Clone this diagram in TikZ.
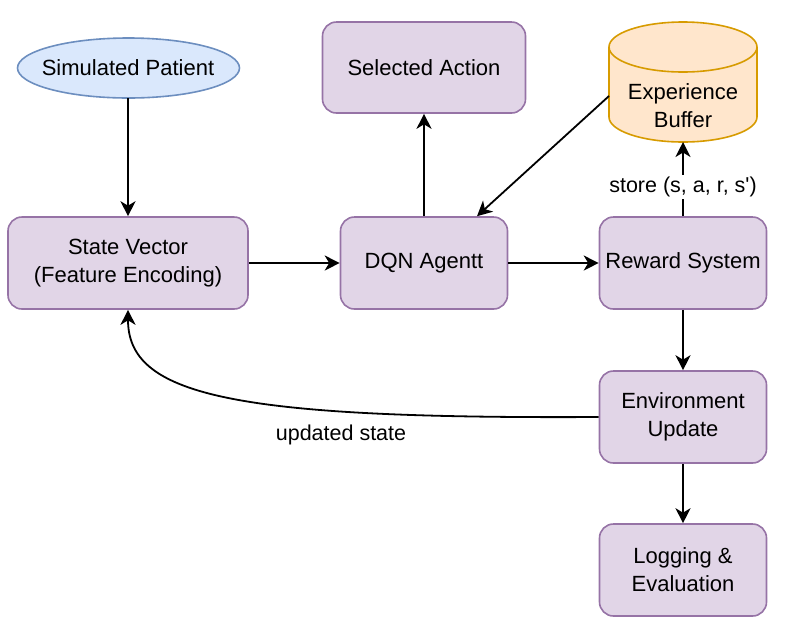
\documentclass[tikz,border=0pt]{standalone}
\usepackage{fontspec}
\setmainfont{Liberation Sans}
\usetikzlibrary{arrows.meta,shapes.geometric}
\definecolor{pfill}{HTML}{E1D5E7}
\definecolor{pdraw}{HTML}{9673A6}
\definecolor{bfill}{HTML}{DAE8FC}
\definecolor{bdraw}{HTML}{6C8EBF}
\definecolor{ofill}{HTML}{FFE6CC}
\definecolor{odraw}{HTML}{D79B00}
\tikzset{
  box/.style={rectangle, rounded corners=14pt, draw=pdraw, fill=pfill, line width=1.6pt,
    minimum width=167pt, minimum height=92pt, align=center, inner sep=0pt,
    font=\fontsize{22}{28}\selectfont},
  conn/.style={line width=1.8pt, -{Stealth[length=15pt,width=15pt,inset=4.5pt]}},
  lbl/.style={font=\fontsize{21.5}{26}\selectfont, inner sep=2pt}
}
\begin{document}
\begin{tikzpicture}[x=1pt,y=-1pt]
\useasboundingbox (0,0) rectangle (790,633);
% Simulated patient
\draw[draw=bdraw, fill=bfill, line width=1.6pt] (128.5,68) ellipse[x radius=111, y radius=30];
\node[rectangle, minimum width=222pt, minimum height=60pt,
  inner sep=0pt, font=\fontsize{22}{28}\selectfont] (pat) at (128,68) {Simulated Patient};
\node[box, minimum width=203pt, minimum height=91pt] (act) at (424,67.5) {Selected Action};
% Cylinder
\fill[ofill] (609,47) -- (609,117) arc[start angle=180, end angle=0, x radius=74, y radius=25]
  -- (757,47) arc[start angle=0, end angle=-180, x radius=74, y radius=25] -- cycle;
\draw[odraw, line width=1.6pt] (609,47) -- (609,117) arc[start angle=180, end angle=0, x radius=74, y radius=25]
  -- (757,47);
\draw[odraw, line width=1.6pt] (683,47) ellipse[x radius=74, y radius=25];
\node[align=center, inner sep=0pt, minimum width=148pt, minimum height=70pt,
  font=\fontsize{22}{28}\selectfont] (buf) at (683,106) {Experience\\Buffer};
\coordinate (bufL) at (609,96);
\coordinate (bufB) at (683,142);
\node[box, minimum width=240pt] (sv) at (128,263) {State Vector\\(Feature Encoding)};
\node[box] (dqn) at (424,263) {DQN Agentt};
\node[box] (rew) at (683,263) {Reward System};
\node[box] (env) at (683,417) {Environment\\Update};
\node[box] (log) at (683,570) {Logging \&\\Evaluation};
% connectors
\draw[conn] (pat) -- (sv);
\draw[conn] (sv) -- (dqn);
\draw[conn] (dqn) -- (act);
\draw[conn] (bufL) -- ([xshift=53pt]dqn.north);
\draw[conn] (dqn) -- (rew);
\draw[conn] (rew) -- (bufB);
\node[lbl, fill=white] (st) at (683,187) {store (s, a, r, s\textquotesingle)};
\draw[conn] (rew) -- (env);
\draw[conn] (env) -- (log);
\draw[conn] (env.west) .. controls (230,419) and (128,395) .. (sv.south);
\node[lbl] (up) at (341,435) {updated state};
\end{tikzpicture}
\end{document}
